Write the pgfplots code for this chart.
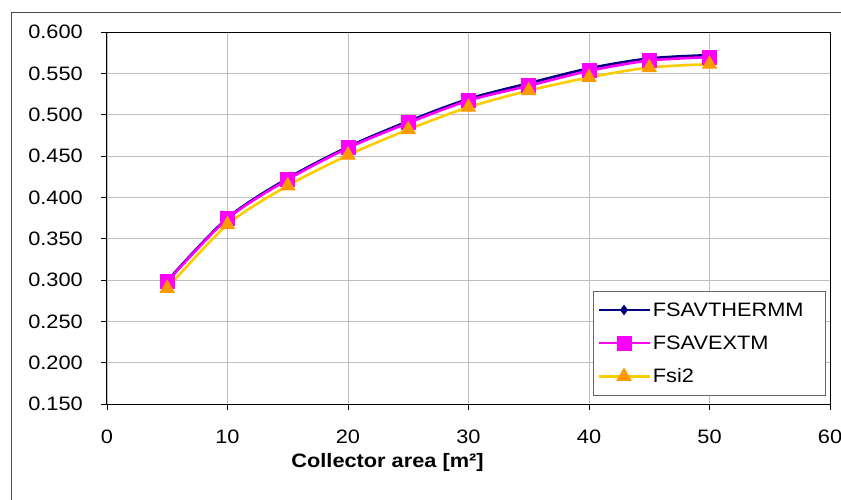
\documentclass[border=0pt]{standalone}
\usepackage{fontspec}
\setmainfont{Liberation Sans}[FakeStretch=1.12]
\usepackage{pgfplots}
\pgfplotsset{compat=1.18}
\definecolor{navyc}{RGB}{0,0,128}
\definecolor{magc}{RGB}{255,0,255}
\definecolor{yelc}{RGB}{255,204,0}
\definecolor{orac}{RGB}{255,153,0}
\begin{document}
\begin{tikzpicture}
\begin{axis}[at={(0,0)}, anchor=south west, scale only axis,
  width=723bp, height=372bp,
  xmin=0, xmax=60, ymin=0.15, ymax=0.6,
  xtick={0,10,20,30,40,50,60},
  ytick={0.15,0.2,0.25,0.3,0.35,0.4,0.45,0.5,0.55,0.6},
  grid=major, major grid style={draw=black!25, line width=0.9bp},
  axis line style={line width=1bp, black},
  tick align=outside, tick pos=left, major tick length=6bp,
  tick style={black, line width=0.9bp},
  /pgf/number format/assume math mode=true,
  yticklabel style={/pgf/number format/fixed, /pgf/number format/fixed zerofill, /pgf/number format/precision=3},
  every tick label/.append style={font=\fontsize{19.5}{22}\selectfont, inner sep=0pt},
  yticklabel style={anchor=east, xshift=-18bp},
  xticklabel style={anchor=north, yshift=-20bp},
  xlabel={\textbf{Collector area [m²]}},
  xlabel style={at={(rel axis cs:0.388,0)}, anchor=center, yshift=-58bp, font=\fontsize{19.5}{22}\selectfont},
  legend style={at={(rel axis cs:0.9945,0.3038)}, anchor=north east, draw=black!60, line width=1bp,
    font=\fontsize{19.5}{22}\selectfont, inner xsep=4bp, inner ysep=9bp, row sep=14bp},
  legend cell align=left,
  legend image code/.code={\draw[mark repeat=2,mark phase=2] plot coordinates {(0cm,0cm) (0.9cm,0cm) (1.8cm,0cm)};},
  clip=false,
]
\addplot[navyc, line width=2.6bp, smooth, mark=diamond*, mark size=4.5bp, mark options={fill=navyc, draw=navyc, line width=1bp}]
 coordinates {(5,0.299)(10,0.375)(15,0.423)(20,0.461)(25,0.492)(30,0.519)(35,0.538)(40,0.556)(45,0.568)(50,0.572)};
\addlegendentry{FSAVTHERMM\rule{16bp}{0pt}}
\addplot[magc, line width=2.6bp, smooth, mark=square*, mark size=7bp, mark options={fill=magc, draw=magc, line width=1bp}]
 coordinates {(5,0.298)(10,0.374)(15,0.4215)(20,0.4597)(25,0.490)(30,0.517)(35,0.535)(40,0.553)(45,0.5655)(50,0.5695)};
\addlegendentry{FSAVEXTM}
\addplot[yelc, line width=2.6bp, smooth, mark=triangle*, mark size=8bp, mark options={fill=orac, draw=orac, line width=1bp}]
 coordinates {(5,0.290)(10,0.367)(15,0.414)(20,0.451)(25,0.482)(30,0.509)(35,0.529)(40,0.545)(45,0.557)(50,0.561)};
\addlegendentry{Fsi2}
\end{axis}
\draw[black!70, line width=1bp] (-95bp,-200bp) -- (-95bp,391bp) -- (900bp,391bp);
\pgfresetboundingbox
\path (-107bp,-96bp) rectangle (734bp,404bp);
\end{tikzpicture}
\end{document}
